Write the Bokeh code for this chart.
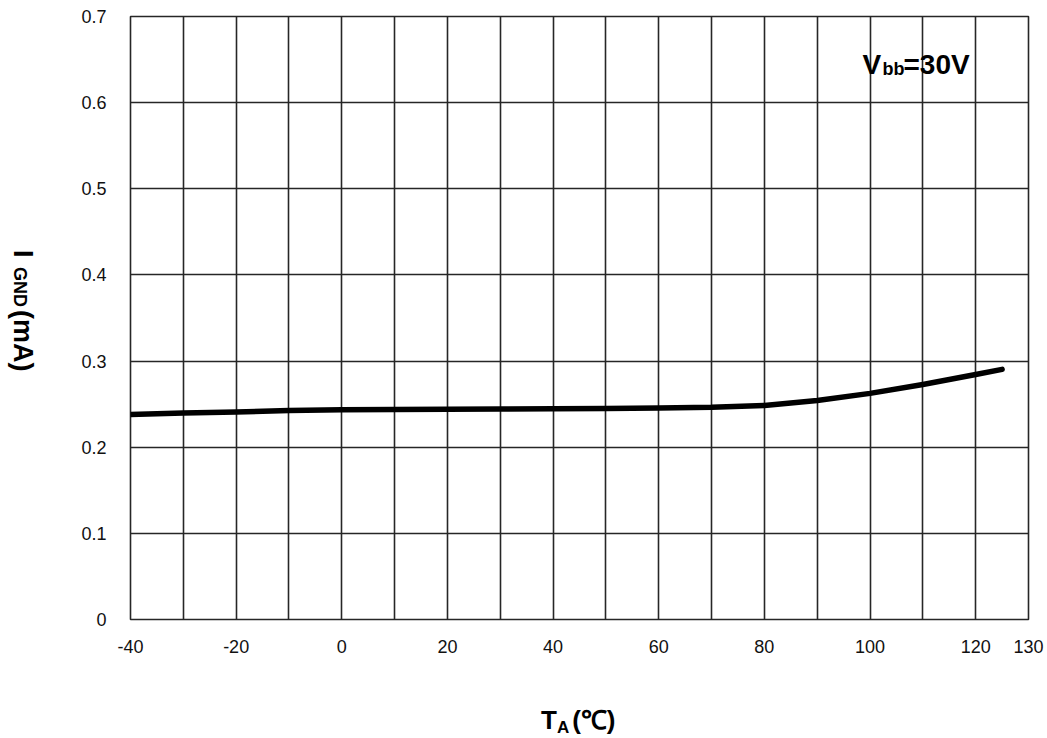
from bokeh.plotting import figure
from bokeh.models import Range1d, FixedTicker, Label, NumeralTickFormatter, Div
from bokeh.layouts import row, column
from bokeh.embed import file_html
from bokeh.resources import INLINE

# ---- data ----
temperature_c = [-40, -30, -20, -10, 0, 10, 20, 30, 40, 50, 60, 70, 80, 90, 100, 110, 120, 125]
i_gnd_ma = [0.238, 0.2398, 0.241, 0.2425, 0.2435, 0.2438, 0.244, 0.2443, 0.2447, 0.245,
            0.2455, 0.2463, 0.2485, 0.2543, 0.2625, 0.2729, 0.2845, 0.2904]
x_tick_values = [-40, -20, 0, 20, 40, 60, 80, 100, 120, 130]
x_grid_values = [-40, -30, -20, -10, 0, 10, 20, 30, 40, 50, 60, 70, 80, 90, 100, 110, 120, 130]
y_tick_values = [0, 0.1, 0.2, 0.3, 0.4, 0.5, 0.6, 0.7]

FONT = "Liberation Sans"
GRID = "#262626"

YDIV_W = 40
PW, PH = 1006, 680
XDIV_H = 56
FL, FT, FR, FB = 130, 16, 1028, 619  # frame edges in page pixels

p = figure(width=PW, height=PH, x_range=Range1d(-40, 130), y_range=Range1d(0, 0.7),
           output_backend="svg", toolbar_location=None,
           min_border_left=FL - YDIV_W, min_border_right=YDIV_W + PW - FR,
           min_border_top=FT, min_border_bottom=PH - FB, margin=0)
p.background_fill_color = "white"
p.border_fill_color = "white"
p.outline_line_color = GRID
p.outline_line_width = 1.6

p.xgrid.ticker = FixedTicker(ticks=x_grid_values)
p.ygrid.ticker = FixedTicker(ticks=y_tick_values)
for g in (p.xgrid, p.ygrid):
    g.grid_line_color = GRID
    g.grid_line_width = 1.6
    g.grid_line_alpha = 1.0

p.xaxis.ticker = FixedTicker(ticks=x_tick_values)
p.xaxis.major_label_overrides = {v: str(v) for v in x_tick_values}
p.yaxis.ticker = FixedTicker(ticks=y_tick_values)
p.yaxis.formatter = NumeralTickFormatter(format="0.[0]")
for ax in (p.xaxis, p.yaxis):
    ax.axis_line_color = None
    ax.major_tick_line_color = None
    ax.minor_tick_line_color = None
    ax.major_tick_out = 0
    ax.major_tick_in = 0
    ax.major_label_text_font = FONT
    ax.major_label_text_font_size = "18px"
    ax.major_label_text_color = "#111111"
p.yaxis.major_label_standoff = 24
p.xaxis.major_label_standoff = 20

p.line(temperature_c, i_gnd_ma, line_color="black", line_width=5.5, line_cap="round", line_join="round")


def lab(text, px, py, size):
    # screen units are measured from the frame's bottom-left corner
    p.add_layout(Label(x=px - FL, y=FB - py, x_units="screen", y_units="screen", text=text,
                       text_font=FONT, text_font_style="bold", text_font_size=f"{size}px",
                       text_color="black", text_align="left", text_baseline="alphabetic"))


# V_bb = 30V annotation (inside the plot frame)
lab("V", 862, 64, 28)
lab("bb", 882, 68, 18)
lab("=30V", 903, 64, 28)

# axis titles with subscripts as HTML text
y_title_html = (
    "<div style=\"padding:250px 0 0 9px;\">"
    "<div style=\"writing-mode:vertical-rl; text-orientation:sideways; width:27px; "
    "line-height:27px; font-family:'Liberation Sans', sans-serif; font-weight:bold; "
    "font-size:27px; color:#000; white-space:nowrap;\">"
    "I<span style=\"font-size:18px; margin-inline-start:9px;\">GND</span>"
    "<span style=\"margin-inline-start:3px;\">(mA)</span></div></div>"
)
x_title_html = (
    "<div style=\"padding:27px 0 0 541px; line-height:26px; "
    "font-family:'Liberation Sans', sans-serif; font-weight:bold; font-size:26px; "
    "color:#000; white-space:nowrap;\">"
    "T<span style=\"font-size:17px; position:relative; top:4px;\">A</span>"
    "<span style=\"margin-left:3px;\">(\u2103)</span></div>"
)

ydiv = Div(text=y_title_html, width=YDIV_W, height=PH, margin=0)
xdiv = Div(text=x_title_html, width=YDIV_W + PW, height=XDIV_H, margin=0)

layout = column(row(ydiv, p, spacing=0), xdiv, spacing=0)

open("out.html", "w").write(file_html(layout, INLINE))
